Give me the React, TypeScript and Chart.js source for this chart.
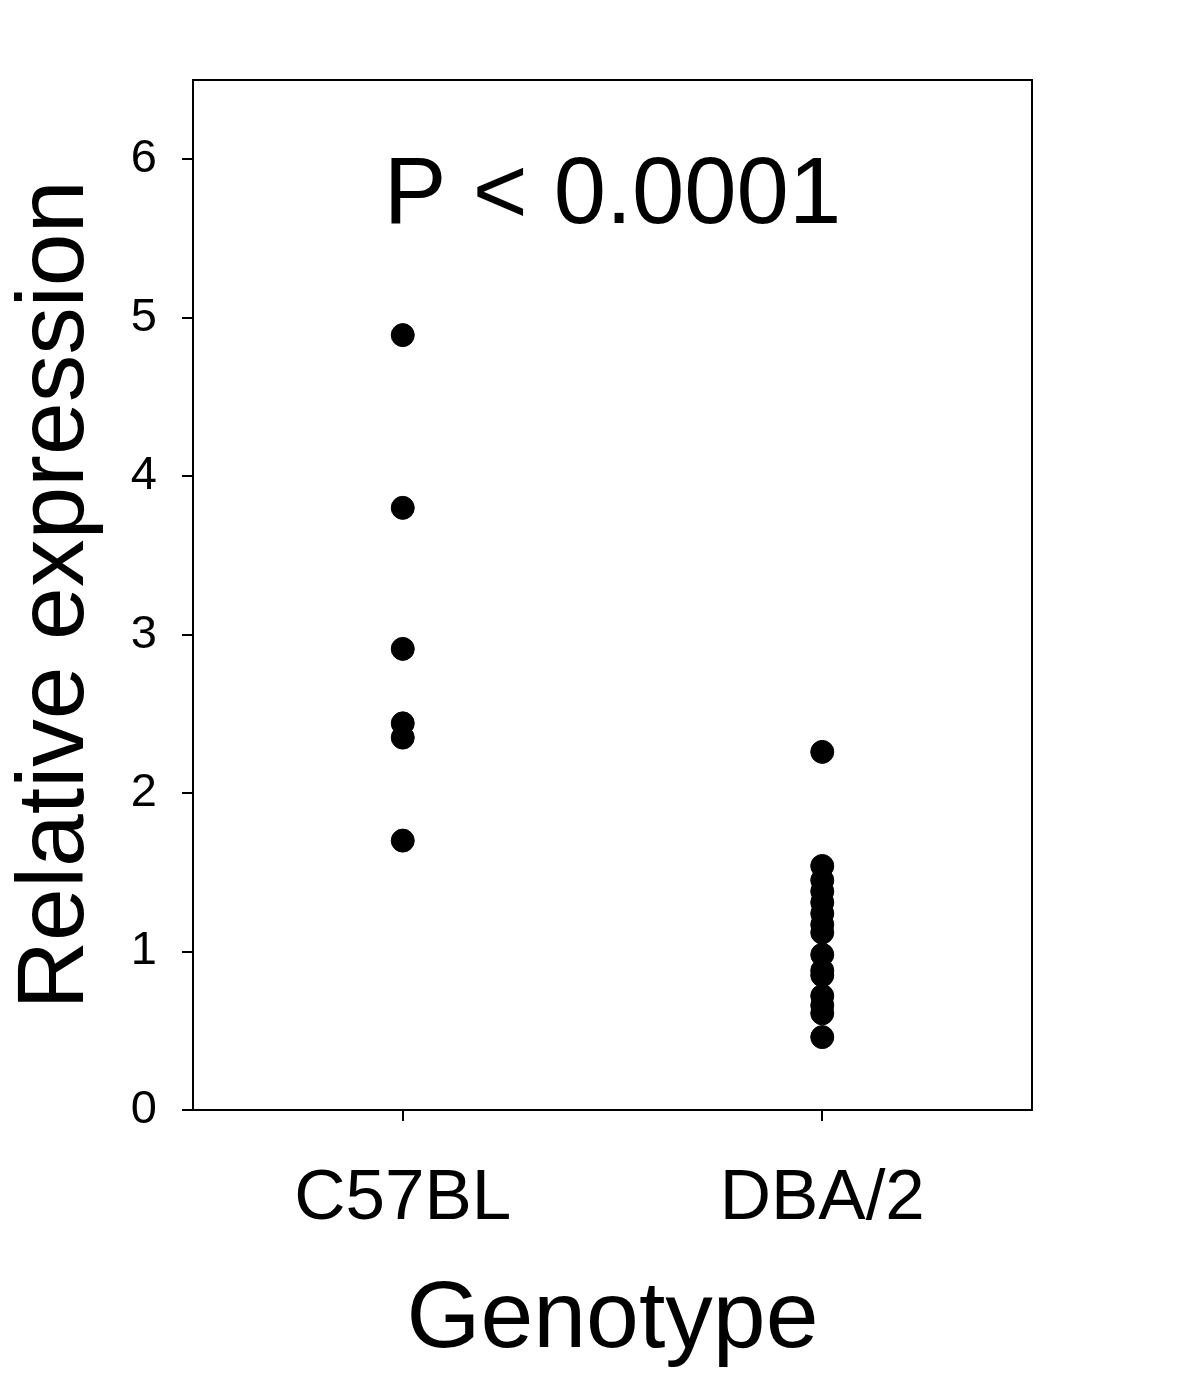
import React, { useEffect, useRef } from "react";
import { Chart, registerables } from "chart.js";

Chart.register(...registerables);

const categories = ["C57BL", "DBA/2"];
const categoryPositions = [0.5, 1.5];
const c57blValues = [4.89, 3.8, 2.91, 2.44, 2.35, 1.7];
const dba2Values = [2.26, 1.54, 1.45, 1.38, 1.31, 1.24, 1.17, 1.12, 0.98, 0.88, 0.85, 0.72, 0.66, 0.61, 0.46];
const yTicks = [0, 1, 2, 3, 4, 5, 6];
const annotationText = "P < 0.0001";
const annotationY = 5.6;

const FONT = "'Liberation Sans', Arial, sans-serif";

export default function App() {
  const ref = useRef<HTMLCanvasElement | null>(null);
  useEffect(() => {
    if (!ref.current) return;
    const points = [
      ...c57blValues.map((v) => ({ x: categoryPositions[0], y: v })),
      ...dba2Values.map((v) => ({ x: categoryPositions[1], y: v })),
    ];
    const boxPlugin = {
      id: "boxAndText",
      afterDraw(chart: any) {
        const { ctx, chartArea, scales } = chart;
        ctx.save();
        ctx.strokeStyle = "#000";
        ctx.lineWidth = 2;
        ctx.strokeRect(chartArea.left, chartArea.top, chartArea.right - chartArea.left, chartArea.bottom - chartArea.top);
        ctx.fillStyle = "#000";
        ctx.font = `94px ${FONT}`;
        ctx.textAlign = "center";
        ctx.textBaseline = "alphabetic";
        ctx.fillText(annotationText, (chartArea.left + chartArea.right) / 2, scales.y.getPixelForValue(annotationY));
        ctx.restore();
      },
    };
    const chart = new Chart(ref.current, {
      type: "scatter",
      data: {
        datasets: [
          {
            data: points,
            backgroundColor: "#000",
            borderColor: "#000",
            pointRadius: 11.5,
            pointHoverRadius: 11.5,
          },
        ],
      },
      options: {
        animation: false,
        responsive: false,
        events: [],
        layout: { padding: { left: 0, top: 80, right: 168, bottom: 0 } },
        plugins: { legend: { display: false }, tooltip: { enabled: false } },
        scales: {
          x: {
            type: "linear",
            min: 0,
            max: 2,
            afterBuildTicks: (scale: any) => {
              scale.ticks = categoryPositions.map((v) => ({ value: v }));
            },
            afterFit: (scale: any) => {
              scale.height = 268;
            },
            ticks: {
              color: "#000",
              font: { family: FONT, size: 71 },
              padding: 36,
              maxRotation: 0,
              callback: (v: any) => {
                const i = categoryPositions.indexOf(Number(v));
                return i >= 0 ? categories[i] : "";
              },
            },
            grid: { drawOnChartArea: false, drawTicks: true, tickLength: 11, color: "#000", lineWidth: 2 },
            border: { display: false },
            title: {
              display: true,
              text: "Genotype",
              color: "#000",
              font: { family: FONT, size: 95 },
              padding: { top: 10, bottom: 0 },
            },
          },
          y: {
            type: "linear",
            min: 0,
            max: 6.5,
            afterBuildTicks: (scale: any) => {
              scale.ticks = yTicks.map((v) => ({ value: v }));
            },
            afterFit: (scale: any) => {
              scale.width = 193;
            },
            ticks: {
              color: "#000",
              font: { family: FONT, size: 47 },
              padding: 25,
            },
            grid: { drawOnChartArea: false, drawTicks: true, tickLength: 11, color: "#000", lineWidth: 2 },
            border: { display: false },
            title: {
              display: true,
              text: "Relative expression",
              color: "#000",
              font: { family: FONT, size: 95 },
              padding: { top: 0, bottom: 0 },
            },
          },
        },
      },
      plugins: [boxPlugin],
    } as any);
    return () => chart.destroy();
  }, []);
  return (
    <div style={{ position: "fixed", left: 0, top: 0, width: 1200, height: 1378, background: "#fff" }}>
      <canvas ref={ref} width={1200} height={1378} style={{ width: 1200, height: 1378 }} />
    </div>
  );
}
